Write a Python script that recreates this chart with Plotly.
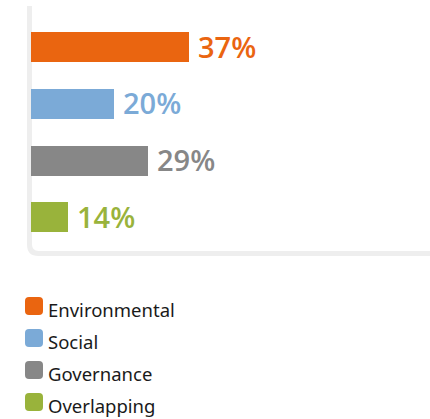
import plotly.graph_objects as go

# ---- data ----
categories = ["Environmental", "Social", "Governance", "Overlapping"]
label_values = [37, 20, 29, 14]          # printed percentages
bar_lengths = [37, 19.4, 27.4, 8.7]      # drawn bar lengths
colors = ["#EA6510", "#7BAAD7", "#878787", "#99B33B"]

W, H = 430, 419
px_per_unit = 158 / 37.0
x0_px = 31
xdom = [x0_px / W, 1.0]
xmax = (W - x0_px) / px_per_unit
step = 56.67
top_px = 47 - step / 2
bot_px = 47 + step * 3.5
ydom = [1 - bot_px / H, 1 - top_px / H]

fig = go.Figure()
fig.add_trace(go.Bar(
    x=bar_lengths, y=categories, orientation="h",
    marker=dict(color=colors, line=dict(width=0)),
    width=30 / step, showlegend=False, hoverinfo="skip",
))

annotations = []
for cat, v, L, c in zip(categories, label_values, bar_lengths, colors):
    annotations.append(dict(
        x=L, y=cat, xref="x", yref="y", text=f"{v}%", showarrow=False,
        xanchor="left", yanchor="middle", xshift=7, yshift=1,
        font=dict(family="Open Sans", size=29, color=c, weight=600),
    ))

shapes = []
lx, by, r = 29.5 / W, 1 - 253.5 / H, 9
ty = 1 - 6 / H
path = (f"M {lx},{ty} L {lx},{by + r / H} "
        f"Q {lx},{by} {lx + r / W},{by} L {1.0},{by}")
shapes.append(dict(type="path", xref="paper", yref="paper", path=path,
                   line=dict(color="#EEEEEE", width=5), layer="below"))

leg_y0 = 306
leg_step = 32
sw = 18
rr = 4
for i, (cat, c) in enumerate(zip(categories, colors)):
    cy = leg_y0 + i * leg_step
    x1, x2 = 25, 25 + sw
    y1, y2 = cy - sw / 2, cy + sw / 2
    def P(x, y):
        return f"{x / W},{1 - y / H}"
    d = (f"M {P(x1 + rr, y1)} L {P(x2 - rr, y1)} Q {P(x2, y1)} {P(x2, y1 + rr)} "
         f"L {P(x2, y2 - rr)} Q {P(x2, y2)} {P(x2 - rr, y2)} "
         f"L {P(x1 + rr, y2)} Q {P(x1, y2)} {P(x1, y2 - rr)} "
         f"L {P(x1, y1 + rr)} Q {P(x1, y1)} {P(x1 + rr, y1)} Z")
    shapes.append(dict(type="path", xref="paper", yref="paper", path=d,
                       fillcolor=c, line=dict(width=0)))
    annotations.append(dict(
        x=46 / W, y=1 - (cy + 3) / H, xref="paper", yref="paper",
        text=cat, showarrow=False, xanchor="left", yanchor="middle",
        font=dict(family="Noto Sans", size=18.5, color="#1a1a1a"),
    ))

fig.update_layout(
    width=W, height=H,
    margin=dict(l=0, r=0, t=0, b=0),
    paper_bgcolor="white", plot_bgcolor="white",
    xaxis=dict(domain=xdom, range=[0, xmax], visible=False, fixedrange=True),
    yaxis=dict(domain=ydom, range=[3.5, -0.5], visible=False, fixedrange=True),
    showlegend=False,
    annotations=annotations, shapes=shapes,
    bargap=0,
)

fig.write_html("out.html", config={"displayModeBar": False})
